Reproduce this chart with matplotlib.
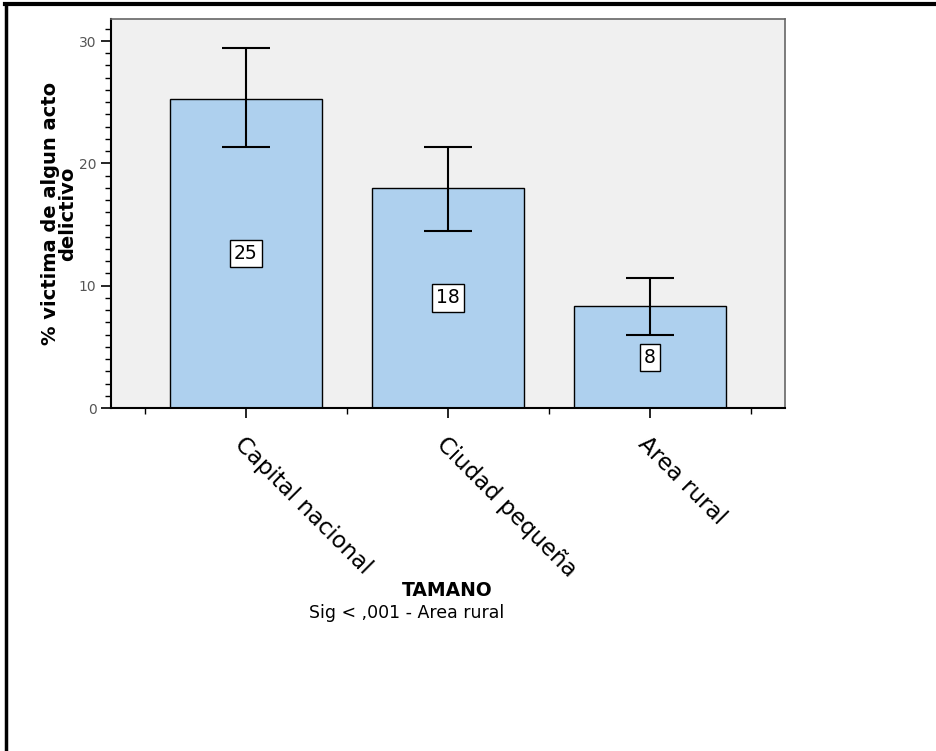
import numpy as np
import matplotlib
matplotlib.use("Agg")
import matplotlib.pyplot as plt
from matplotlib.lines import Line2D
from matplotlib.ticker import MultipleLocator, FixedLocator

# data
categories = ["Capital nacional", "Ciudad pequeña", "Area rural"]
pct = [25.3, 18.0, 8.3]
ci_low = [21.3, 14.5, 6.0]
ci_high = [29.4, 21.3, 10.6]
bar_labels = ["25", "18", "8"]

fig = plt.figure(figsize=(9.36, 7.51), dpi=100)
ax = fig.add_axes([111/936, 1 - 408/751, 674/936, 389/751])
ax.set_facecolor("#f0f0f0")

x = np.arange(len(categories))
err = [np.array(pct) - np.array(ci_low), np.array(ci_high) - np.array(pct)]
ax.bar(x, pct, width=0.75, color="#aed0ee", edgecolor="black", linewidth=1, zorder=2)
ax.errorbar(x, pct, yerr=err, fmt="none", ecolor="black", elinewidth=1.5,
            capsize=17, capthick=1.5, zorder=3)

for xi, v, lab in zip(x, pct, bar_labels):
    ax.text(xi, v / 2, lab, ha="center", va="center", fontsize=13.5, zorder=4,
            bbox=dict(boxstyle="square,pad=0.22", fc="white", ec="black", lw=1))

ax.set_xlim(-0.668, 2.668)
ax.set_ylim(0, 31.8)

ax.yaxis.set_major_locator(FixedLocator([0, 10, 20, 30]))
ax.yaxis.set_minor_locator(MultipleLocator(1))
ax.set_xticks(x)
ax.set_xticklabels(categories, rotation=-45, ha="left", va="top",
                   rotation_mode="anchor", fontsize=16.5)
ax.xaxis.set_minor_locator(FixedLocator([-0.5, 0.5, 1.5, 2.5]))

ax.tick_params(axis="y", which="major", direction="out", length=7, width=1.2,
               labelsize=10, labelcolor="#555555")
ax.tick_params(axis="y", which="minor", direction="out", length=4, width=1)
ax.tick_params(axis="x", which="major", direction="out", length=7.5, width=1.2, pad=10)
ax.tick_params(axis="x", which="minor", direction="out", length=4, width=1)

for s in ["left", "bottom"]:
    ax.spines[s].set_color("black")
    ax.spines[s].set_linewidth(1.5)
for s in ["top", "right"]:
    ax.spines[s].set_color("#666666")
    ax.spines[s].set_linewidth(1.2)

ax.set_ylabel("% victima de algun acto\ndelictivo", fontsize=14, fontweight="bold",
              linespacing=0.9, labelpad=1)

fig.text(447/936, 1 - 590/751, "TAMANO", ha="center", va="center",
         fontsize=13.5, fontweight="bold")
fig.text(407/936, 1 - 613/751, "Sig < ,001 - Area rural", ha="center", va="center",
         fontsize=12.5)

# outer frame of the pasted image (top and left edges)
fig.add_artist(Line2D([4.5/936, 1], [1 - 3.5/751, 1 - 3.5/751], color="black", lw=3,
                      transform=fig.transFigure))
fig.add_artist(Line2D([5.5/936, 5.5/936], [0, 1 - 3.5/751], color="black", lw=2.5,
                      transform=fig.transFigure))

fig.savefig("out.png", dpi=100)
